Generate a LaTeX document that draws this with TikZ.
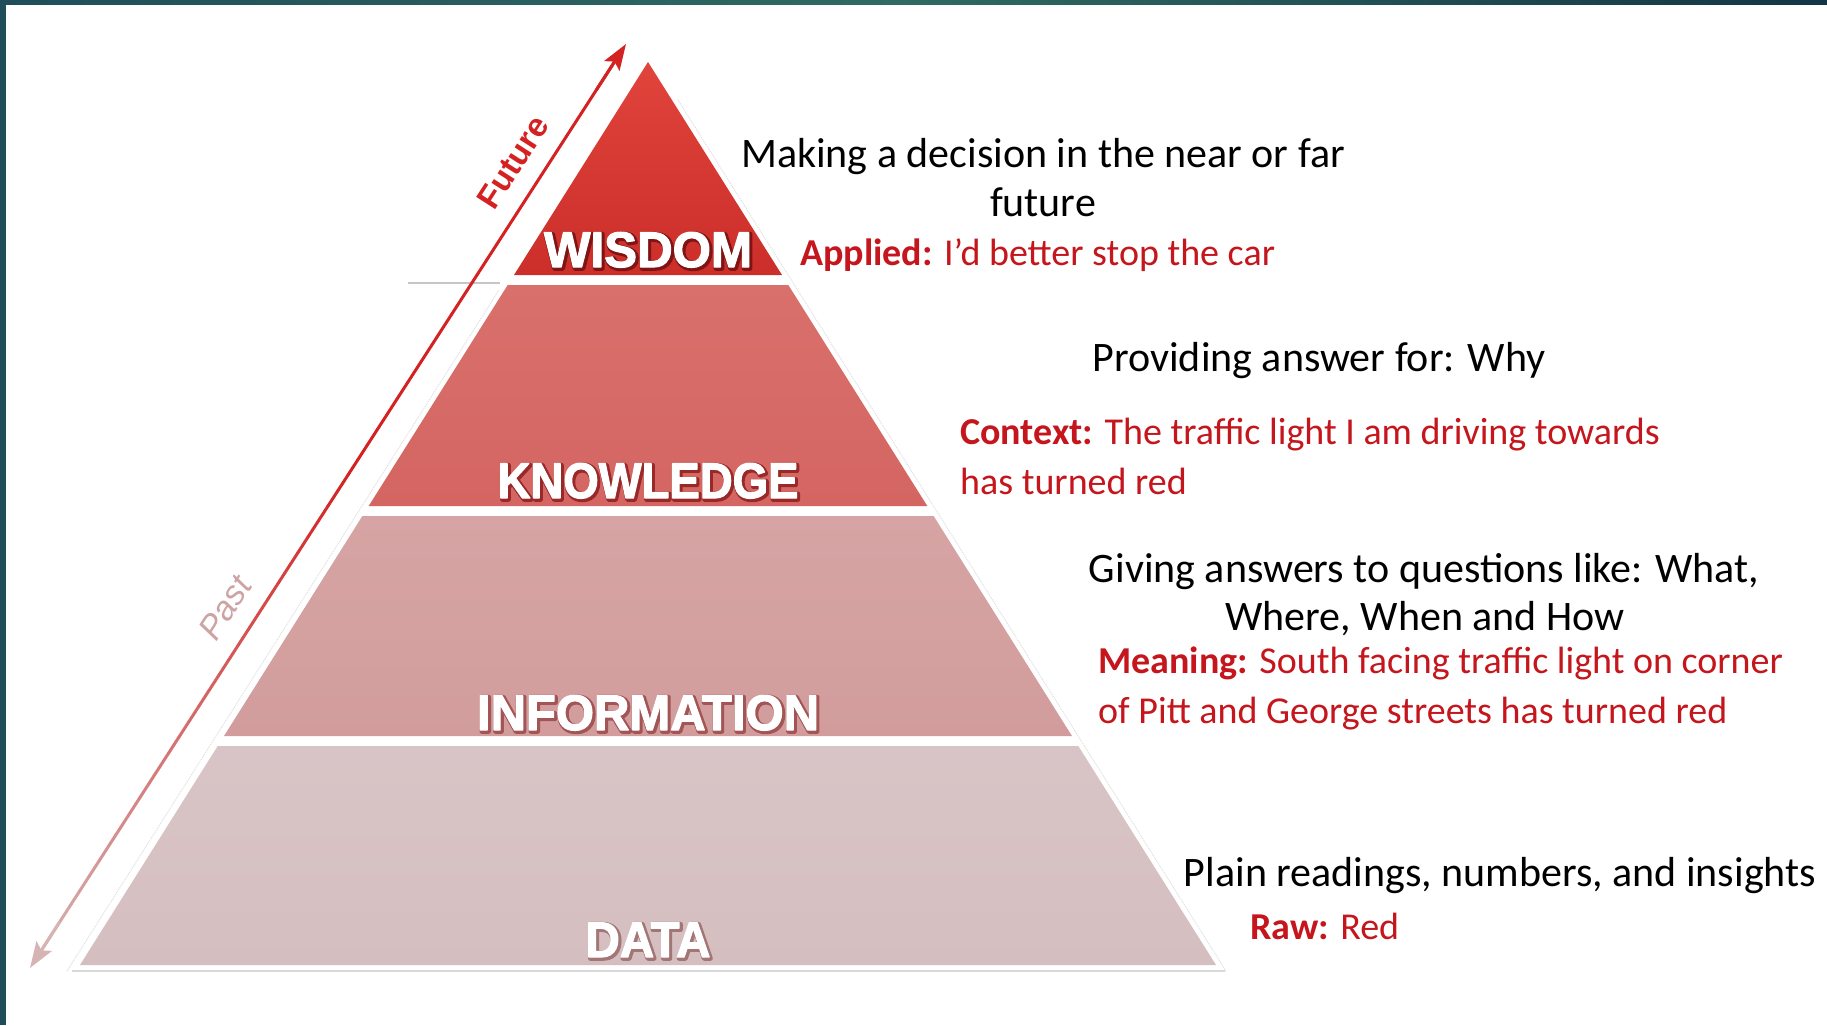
\documentclass[tikz,border=0pt]{standalone}
\usepackage{fontspec}
\setmainfont{Carlito}
\newfontfamily\lblfont{Liberation Sans}
\usetikzlibrary{arrows.meta,calc}
\definecolor{frameA}{HTML}{1F4E5A}
\definecolor{frameB}{HTML}{2F6B62}
\definecolor{frameC}{HTML}{143545}
\definecolor{wisT}{HTML}{E0443B}
\definecolor{wisB}{HTML}{CC2E2A}
\definecolor{knoT}{HTML}{D9706B}
\definecolor{knoB}{HTML}{D46562}
\definecolor{infT}{HTML}{D6A4A4}
\definecolor{infB}{HTML}{D29C9C}
\definecolor{datT}{HTML}{D8C4C6}
\definecolor{datB}{HTML}{D5BEC0}
\definecolor{txtRed}{HTML}{C4161C}
\definecolor{arrRed}{HTML}{D42222}
\definecolor{arrPale}{HTML}{D6B4B4}
\definecolor{pastCol}{HTML}{CDA3A3}
% white band label with a dark outline/shadow drawn underneath (one node)
\newcommand\bandtxt[3]{%
  \rlap{\hspace{1.5pt}\raisebox{-1.5pt}{\special{pdf:code q #1 RG #1 rg 4.5 w 1 j 2 Tr}\scalebox{#2}[1]{#3}\special{pdf:code Q}}}%
  \special{pdf:code q 1 1 1 RG 1 1 1 rg 1.2 w 1 j 2 Tr}\scalebox{#2}[1]{#3}\special{pdf:code Q}}
\tikzset{
  lbl/.style={font=\lblfont\bfseries\fontsize{50}{50}\selectfont, text=white, inner sep=0pt, anchor=base},
  blk/.style={font=\fontsize{42}{49}\selectfont, text=black, inner sep=0pt, anchor=base},
  rtx/.style={font=\fontsize{38}{46}\selectfont, text=txtRed, inner sep=0pt, anchor=base west},
  axislbl/.style={inner sep=0pt, rotate=57.2}
}
\begin{document}
\begin{tikzpicture}[x=1pt,y=-1pt]
\useasboundingbox (0,0) rectangle (1827,1025);
\fill[white] (0,0) rectangle (1827,1025);
% frame
\shade[left color=frameA, right color=frameB] (0,0) rectangle (900,5);
\shade[left color=frameB, right color=frameC] (900,0) rectangle (1827,5);
\fill[frameA] (0,0) rectangle (6,1025);
% faint edge shadows
\draw[gray!25, densely dotted, line width=1pt] (67,971) -- (499,290);
\draw[gray!25, densely dotted, line width=1pt] (1226,971) -- (678,100);
\draw[gray!30, line width=2.5pt] (72,971) -- (1225,971);
% bands
\shade[top color=wisT, bottom color=wisB] (648,62) -- (782,275) -- (514,275) -- cycle;
\shade[top color=knoT, bottom color=knoB] (507.7,285) -- (788.3,285) -- (927.3,506) -- (368.7,506) -- cycle;
\shade[top color=infT, bottom color=infB] (362.4,516) -- (933.6,516) -- (1072,736) -- (224,736) -- cycle;
\shade[top color=datT, bottom color=datB] (217.7,746) -- (1078.3,746) -- (1216,965) -- (80,965) -- cycle;
\draw[gray!45, line width=2pt] (408,283) -- (500,283);
% time arrow
\coordinate (ptail) at (30,968);
\coordinate (phead) at (626,44);
\foreach \i in {1,...,58}{
  \pgfmathsetmacro\ta{\i/60}
  \pgfmathsetmacro\tb{(\i+1)/60}
  \pgfmathsetmacro\p{min(100,190*\ta)}
  \draw[line width=3pt, line cap=round, arrRed!\p!arrPale] ($(ptail)!\ta!(phead)$) -- ($(ptail)!\tb!(phead)$);
}
\draw[line width=3pt, arrRed, -{Stealth[length=26pt,width=18pt,inset=5pt]}] ($(ptail)!0.95!(phead)$) -- (phead);
\draw[line width=3pt, arrPale, -{Stealth[length=26pt,width=18pt,inset=5pt]}] ($(ptail)!0.05!(phead)$) -- (ptail);
\node[axislbl, font=\lblfont\bfseries\fontsize{33}{33}\selectfont, text=arrRed] (future) at (513,162) {Future};
\node[axislbl, font=\lblfont\itshape\fontsize{34}{34}\selectfont, text=pastCol] (past) at (225,608) {Past};
% band labels
\node[lbl] (wisdom) at (648,267) {\bandtxt{0.50 0.08 0.08}{0.985}{WISDOM}};
\node[lbl] (knowledge) at (648,498) {\bandtxt{0.60 0.16 0.16}{0.91}{KNOWLEDGE}};
\node[lbl] (information) at (648,730) {\bandtxt{0.64 0.33 0.33}{0.98}{INFORMATION}};
\node[lbl] (data) at (648,957) {\bandtxt{0.64 0.46 0.46}{0.95}{DATA}};
% descriptions
\node[blk] (dec1) at (1043,167) {Making a decision in the near or far};
\node[blk] (dec2) at (1043,216) {future};
\node[rtx] (app) at (800,265) {\textbf{Applied:} I’d better stop the car};
\node[blk] (why) at (1319,371) {Providing answer for: Why};
\node[rtx] (ctx1) at (960,444) {\textbf{Context:} The traffic light I am driving towards};
\node[rtx] (ctx2) at (960,494) {has turned red};
\node[blk] (giv1) at (1424,582) {Giving answers to questions like: What,};
\node[blk] (giv2) at (1425,630) {Where, When and How};
\node[rtx] (mean1) at (1098,673) {\textbf{Meaning:} South facing traffic light on corner};
\node[rtx] (mean2) at (1098,723) {of Pitt and George streets has turned red};
\node[blk] (plain) at (1500,886) {Plain readings, numbers, and insights};
\node[rtx] (raw) at (1250,939) {\textbf{Raw:} Red};
\end{tikzpicture}
\end{document}
